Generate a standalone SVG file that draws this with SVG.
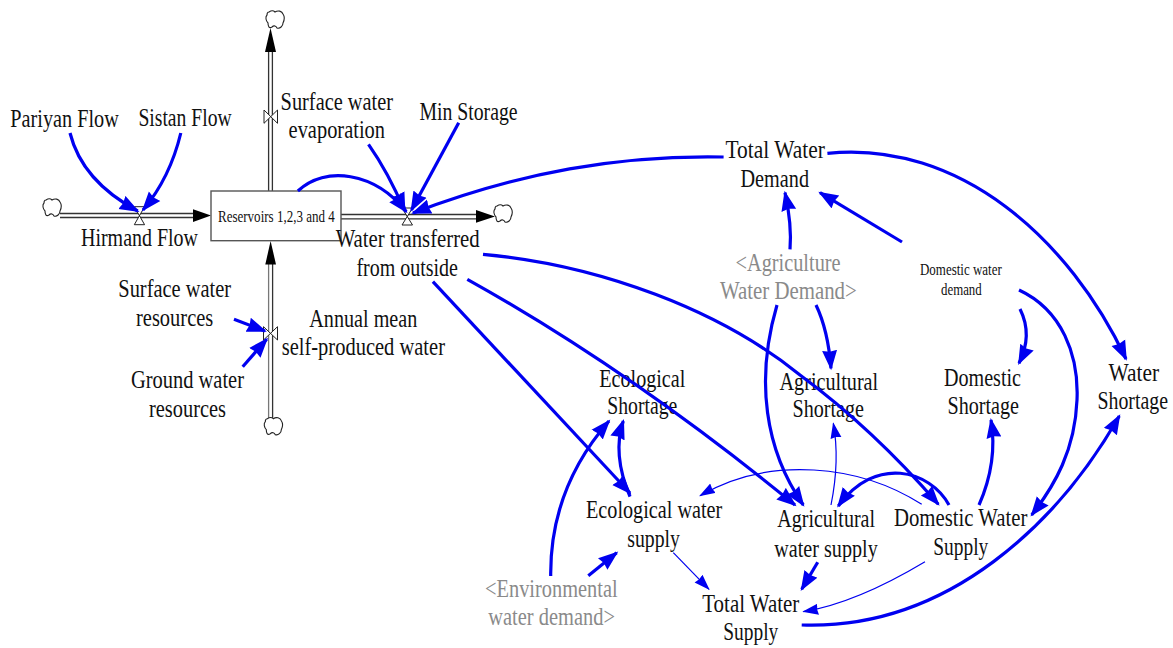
<svg xmlns="http://www.w3.org/2000/svg" width="1173" height="648" viewBox="0 0 1173 648">
<style>
text{font-family:"Liberation Serif","Times New Roman",serif;font-size:25px;fill:#111}
.g{fill:#8a8a8a}
.s{font-size:16px}
.a{fill:none;stroke:#0000f0;stroke-width:3.2;marker-end:url(#big)}
.t{fill:none;stroke:#0000f0;stroke-width:1.2;marker-end:url(#small)}
.c{fill:#fff;stroke:#222;stroke-width:1.1}
.v{fill:#fff;stroke:#222;stroke-width:1}
.f1{stroke:#333;stroke-width:1.3;fill:none}
.h{fill:#000}
</style>
<defs>
<marker id="big" markerUnits="userSpaceOnUse" markerWidth="24" markerHeight="18" refX="18" refY="8" orient="auto" viewBox="0 0 24 18"><path d="M0,0.5 L20,8 L0,15.5 L1.5,8 Z" fill="#0000f0"/></marker>
<marker id="small" markerUnits="userSpaceOnUse" markerWidth="20" markerHeight="14" refX="15" refY="5.5" orient="auto" viewBox="0 0 20 14"><path d="M0,0 L16,5.5 L0,11 L1,5.5 Z" fill="#0000f0"/></marker>
<path id="cloud" d="M-6,-8 C-3,-10 -1,-9 0,-8 C3,-10 7,-9 8,-6 C10,-3 9,1 8,3 C8,6 5,9 2,8 C1,6 -1,5 -3,7 C-6,9 -7,6 -7,3 C-9,1 -10,-3 -8,-5 C-8,-7 -7,-8 -6,-8 Z"/>
</defs>

<g id="flow-top">
<path class="f1" d="M268.6,191V50M272.4,191V50"/>
<polygon class="h" points="265,52 270.5,28 276,52"/>
<use href="#cloud" class="c" x="275" y="20"/>
<path class="v" d="M264,110 L277.5,123.3 V110 L264,123.3 Z"/>
</g>
<g id="flow-left">
<path class="f1" d="M60,213.5H194M60,217.5H194"/>
<polygon class="h" points="193,209.3 211,215.6 193,222"/>
<use href="#cloud" class="c" x="52" y="208"/>
<path class="v" d="M134.3,206.7 H144.6 L134.3,224.7 H144.6 Z"/>
</g>
<g id="flow-right">
<path class="f1" d="M341,214.5H477M341,218.8H477"/>
<polygon class="h" points="476,210 495,216.4 476,222.7"/>
<use href="#cloud" class="c" x="503" y="214"/>
<path class="v" d="M402,208 H412.5 L402,225 H412.5 Z"/>
</g>
<g id="flow-bottom">
<path class="f1" d="M268.6,264V418" style="stroke:#777"/>
<path class="f1" d="M272.6,264V418"/>
<polygon class="h" points="265.3,264.5 270.6,241 276,264.5"/>
<use href="#cloud" class="c" x="273.3" y="426.7"/>
<path class="v" d="M263.5,326.7 L277.5,340 V326.7 L263.5,340 Z"/>
</g>
<g id="reservoirs">
<rect x="211" y="191" width="130" height="49.7" fill="#fff" stroke="#555" stroke-width="1.4"/>
<text class="s" x="218" y="222" textLength="116.7" lengthAdjust="spacingAndGlyphs">Reservoirs 1,2,3 and 4</text>
</g>

<g id="pariyan-flow"><text x="10.3" y="127.3" textLength="108.5" lengthAdjust="spacingAndGlyphs">Pariyan Flow</text></g>
<g id="sistan-flow"><text x="138.4" y="126" textLength="93.3" lengthAdjust="spacingAndGlyphs">Sistan Flow</text></g>
<g id="hirmand-flow"><text x="81" y="245.7" textLength="117" lengthAdjust="spacingAndGlyphs">Hirmand Flow</text></g>
<g id="surface-evaporation"><text x="280.6" y="110" textLength="112.4" lengthAdjust="spacingAndGlyphs">Surface water</text><text x="288.6" y="138.3" textLength="96.4" lengthAdjust="spacingAndGlyphs">evaporation</text></g>
<g id="min-storage"><text x="419.4" y="120" textLength="98.2" lengthAdjust="spacingAndGlyphs">Min Storage</text></g>
<g id="water-transferred"><text x="335.7" y="246.7" textLength="144" lengthAdjust="spacingAndGlyphs">Water transferred</text><text x="356.4" y="275.7" textLength="101.6" lengthAdjust="spacingAndGlyphs">from outside</text></g>
<g id="surface-resources"><text x="118.3" y="296.7" textLength="112.7" lengthAdjust="spacingAndGlyphs">Surface water</text><text x="136" y="325.7" textLength="77.3" lengthAdjust="spacingAndGlyphs">resources</text></g>
<g id="annual-mean"><text x="309.3" y="326.7" textLength="108" lengthAdjust="spacingAndGlyphs">Annual mean</text><text x="281.7" y="355" textLength="163.3" lengthAdjust="spacingAndGlyphs">self-produced water</text></g>
<g id="ground-resources"><text x="131" y="388.3" textLength="113" lengthAdjust="spacingAndGlyphs">Ground water</text><text x="149" y="416.7" textLength="77" lengthAdjust="spacingAndGlyphs">resources</text></g>
<g id="total-demand"><text x="725.5" y="158.3" textLength="99.3" lengthAdjust="spacingAndGlyphs">Total Water</text><text x="740.5" y="186.7" textLength="68.5" lengthAdjust="spacingAndGlyphs">Demand</text></g>
<g id="agri-demand"><text class="g" x="735.5" y="271" textLength="105.1" lengthAdjust="spacingAndGlyphs">&lt;Agriculture</text><text class="g" x="720" y="299" textLength="136.8" lengthAdjust="spacingAndGlyphs">Water Demand&gt;</text></g>
<g id="domestic-demand"><text class="s" x="920" y="275" textLength="81.8" lengthAdjust="spacingAndGlyphs">Domestic water</text><text class="s" x="941" y="295" textLength="40.7" lengthAdjust="spacingAndGlyphs">demand</text></g>
<g id="agri-shortage"><text x="779.5" y="389.5" textLength="98.7" lengthAdjust="spacingAndGlyphs">Agricultural</text><text x="792.5" y="417" textLength="71.5" lengthAdjust="spacingAndGlyphs">Shortage</text></g>
<g id="domestic-shortage"><text x="944" y="386" textLength="77" lengthAdjust="spacingAndGlyphs">Domestic</text><text x="947.5" y="414" textLength="71.5" lengthAdjust="spacingAndGlyphs">Shortage</text></g>
<g id="water-shortage"><text x="1108.5" y="380.7" textLength="50.6" lengthAdjust="spacingAndGlyphs">Water</text><text transform="translate(1097.5,409.3) scale(.793,1)">Shortage</text></g>
<g id="eco-shortage"><text x="599.3" y="386.7" textLength="86" lengthAdjust="spacingAndGlyphs">Ecological</text><text x="607.3" y="414.3" textLength="70" lengthAdjust="spacingAndGlyphs">Shortage</text></g>
<g id="eco-supply"><text x="586" y="517.7" textLength="136.3" lengthAdjust="spacingAndGlyphs">Ecological water</text><text x="627.3" y="546.7" textLength="52.7" lengthAdjust="spacingAndGlyphs">supply</text></g>
<g id="env-demand"><text class="g" x="485" y="596.7" textLength="132.7" lengthAdjust="spacingAndGlyphs">&lt;Environmental</text><text class="g" x="488.3" y="625" textLength="126.7" lengthAdjust="spacingAndGlyphs">water demand&gt;</text></g>
<g id="total-supply"><text x="702.3" y="611.7" textLength="97" lengthAdjust="spacingAndGlyphs">Total Water</text><text x="723.3" y="640" textLength="55" lengthAdjust="spacingAndGlyphs">Supply</text></g>
<g id="agri-supply"><text x="777.3" y="527.3" textLength="97.7" lengthAdjust="spacingAndGlyphs">Agricultural</text><text x="774.3" y="556.7" textLength="103.4" lengthAdjust="spacingAndGlyphs">water supply</text></g>
<g id="domestic-supply"><text x="894" y="526" textLength="133.3" lengthAdjust="spacingAndGlyphs">Domestic Water</text><text x="933.3" y="555" textLength="55" lengthAdjust="spacingAndGlyphs">Supply</text></g>

<g id="connectors">
<path class="a" d="M70,133 Q82,181 137.7,211"/>
<path class="a" d="M180.8,133 Q170,178 143,210"/>
<path class="a" d="M368.5,144.3 Q388,172 404.6,210.7"/>
<path class="a" d="M458.7,122.7 L411.5,210"/>
<path class="a" d="M297.9,191 C325,165 375,172 406.3,211.7"/>
<path class="a" d="M723.6,157 C620,155 520,172 413,213"/>
<path class="a" d="M827.4,153.3 C960,140 1070,240 1126,359"/>
<path class="a" d="M790,249.3 Q792,225 785,192.7"/>
<path class="a" d="M902,242 L820,192.7"/>
<path class="a" d="M1020,309 Q1033,335 1019,363.3"/>
<path class="a" d="M1019,290 C1062,310 1079,355 1077,400 C1075,450 1055,485 1031.7,515"/>
<path class="a" d="M816,305 Q828,330 831,368.3"/>
<path class="a" d="M777,305 C755,380 765,450 803.3,505"/>
<path class="a" d="M483,254.3 C600,265 720,310 800,375 C850,412 900,460 938.3,504.3"/>
<path class="a" d="M467.3,279.3 Q630,370 795,505"/>
<path class="a" d="M432.9,281.7 L630,493"/>
<path class="a" d="M550.7,576 C550,510 575,460 609,421"/>
<path class="a" d="M588.3,575.7 L616.7,552.7"/>
<path class="a" d="M630,496.7 Q612,454 623.3,421"/>
<path class="t" d="M673.3,552.7 L709,589.3"/>
<path class="t" d="M921.7,504.3 C860,465 770,455 700,495.7"/>
<path class="a" d="M949,505 C930,470 875,455 838.3,506"/>
<path class="t" d="M831,505 Q840,460 833.3,423.3"/>
<path class="a" d="M979,505 C990,480 996,450 991,420"/>
<path class="a" d="M801.7,625 C950,630 1060,520 1119.3,416"/>
<path class="a" d="M817.7,562.3 L801.7,589.3"/>
<path class="t" d="M925,561.7 Q856,603 803.3,611.7"/>
<path class="a" d="M234,319.3 L265,331"/>
<path class="a" d="M242.7,366.7 L266.7,339.3"/>
</g>
</svg>
